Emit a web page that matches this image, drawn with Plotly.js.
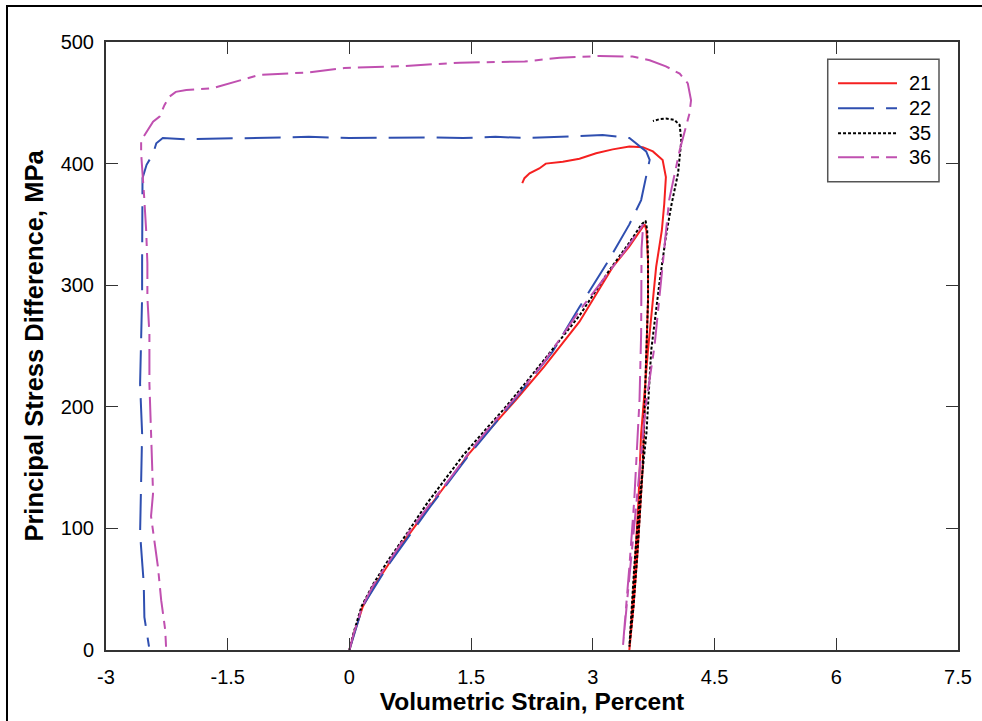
<!DOCTYPE html>
<html>
<head>
<meta charset="utf-8">
<script src="https://cdn.plot.ly/plotly-3.0.1.min.js"></script>
<style>
  html, body { margin: 0; padding: 0; background: #fff; }
  #chart { width: 982px; height: 721px; }
</style>
</head>
<body>
<div id="chart"></div>
<script>
// Test 21 (red, solid)
const s21_x = [0, 0.05, 0.164, 0.3, 0.49, 0.7, 0.986, 1.25, 1.48, 1.75, 2.05, 2.4, 2.835, 3.245, 3.45, 3.615, 3.64,
  3.66, 3.68, 3.68, 3.66, 3.615, 3.55, 3.5, 3.45,
  3.5, 3.56, 3.595, 3.68, 3.78, 3.85, 3.88, 3.9, 3.86, 3.74, 3.615, 3.45, 3.245, 3.04, 2.835, 2.63, 2.42, 2.34, 2.22, 2.157, 2.13];
const s21_y = [0, 12, 35.6, 52, 71.4, 92, 117.8, 141, 162, 183, 205.6, 233, 270, 315, 332, 348, 350,
  345, 320, 288, 240, 151, 80, 35, 0,
  50, 120, 178, 247, 315, 345, 367, 389, 403, 410, 413.5, 414, 411.7, 408.5, 404, 401.6, 400, 396, 392, 388, 384];

// Test 22 (blue, long dash)
const s22_x = [0, 0.164, 0.49, 0.986, 1.48, 2.05, 2.5, 2.835, 3.2, 3.45, 3.595, 3.657, 3.7, 3.657, 3.45, 3.12, 2.63,
  2.2, 1.8, 1.4, 1.0, 0.5, 0, -0.5, -1.0, -1.5, -2.0, -2.3, -2.38, -2.42, -2.5, -2.55, -2.555, -2.55, -2.555, -2.555,
  -2.567, -2.58, -2.555, -2.567, -2.58, -2.55, -2.535, -2.527, -2.47];
const s22_y = [0, 36, 71, 117, 161, 207, 245, 282, 321, 350, 370, 388, 403, 410, 421, 423.5, 422,
  421, 422, 421, 421.5, 421, 421, 422, 421.5, 421, 420, 421, 416.7, 408, 399, 388, 359, 345, 318, 290.6,
  260, 219, 178, 137, 96, 68.5, 55, 27, 2.7];

// Test 35 (black, dotted)
const s35_x = [0, 0.05, 0.15, 0.3, 0.48, 0.7, 0.95, 1.2, 1.4, 1.7, 1.89, 2.2, 2.5, 2.835, 3.2, 3.45, 3.6, 3.65,
  3.67, 3.68, 3.68, 3.66, 3.615, 3.55, 3.5, 3.45,
  3.51, 3.575, 3.66, 3.72, 3.82, 3.9, 3.965, 4.05, 4.09, 4.07, 4.006, 3.9, 3.82, 3.74];
const s35_y = [0, 14, 36, 55, 74, 95, 120, 142, 160, 183, 197, 222, 247, 275, 312, 335, 350, 353,
  345, 320, 288, 240, 151, 80, 35, 2.7,
  68.5, 123, 178, 247, 301.6, 340, 365, 392, 419, 431.7, 435.9, 437, 436.5, 435];

// Test 36 (magenta, dash-dot)
const s36_x = [0, 0.05, 0.16, 0.3, 0.49, 0.7, 0.98, 1.25, 1.48, 1.75, 2.05, 2.4, 2.835, 3.37, 3.55, 3.62,
  3.6, 3.595, 3.575, 3.51, 3.45, 3.37,
  3.45, 3.55, 3.65, 3.76, 3.84, 3.94, 4.07, 4.19, 4.21, 4.17, 4.07, 3.9, 3.7, 3.49, 3.08, 2.59, 2.16, 1.36, 0.62, -0.06,
  -0.49, -1.11, -1.685, -2.01, -2.14, -2.22, -2.28, -2.34, -2.42, -2.49, -2.567, -2.567, -2.55, -2.53, -2.505, -2.49, -2.49,
  -2.465, -2.465, -2.445, -2.42, -2.445, -2.40, -2.36, -2.32, -2.27, -2.26];
const s36_y = [0, 13, 36, 54, 73, 94, 119, 142, 163, 185, 208, 237, 279, 326, 343, 350,
  330, 260, 205.6, 123, 68.5, 2.7,
  60, 130, 200, 250, 301, 370, 411, 441, 452, 466, 474, 480, 485, 488, 488.5, 487, 484, 483, 480, 478.6,
  475, 473, 462, 460.5, 459, 455, 448, 438.6, 434.5, 427.6, 419, 408.5, 394.7, 372.8, 345, 318, 290,
  260, 219, 178, 129, 110, 90, 68.5, 41, 16.4, 2.7];

const seriesNames = ['21', '22', '35', '36'];
const seriesColors = ['#f52020', '#2f4fb0', '#000000', '#c050b0'];
const seriesDash = ['solid', '36px,12px', '3px,2px', '26px,7px,8px,7px'];
const xTicks = [-3, -1.5, 0, 1.5, 3, 4.5, 6, 7.5];
const xTickText = ['-3', '-1.5', '0', '1.5', '3', '4.5', '6', '7.5'];
const yTicks = [0, 100, 200, 300, 400, 500];

const FONT = 'Liberation Sans, Arial, Helvetica, sans-serif';

const xs = [s21_x, s22_x, s35_x, s36_x];
const ys = [s21_y, s22_y, s35_y, s36_y];
const traces = seriesNames.map((n, i) => ({
  x: xs[i], y: ys[i], name: n, mode: 'lines',
  line: {color: seriesColors[i], width: 2, dash: seriesDash[i]}
}));

// manual legend (paper coordinates)
const legBox = {x0: 0.8471, x1: 0.9777, y0: 0.7702, y1: 0.9715};
const legLineX = [0.8592, 0.9284];
const legRowY = [0.9321, 0.8909, 0.8498, 0.8104];
const legTextX = 0.9401;

const shapes = [
  {type: 'rect', xref: 'paper', yref: 'paper',
   x0: -0.1162, x1: 1.3, y0: -0.3, y1: 1.0592,
   line: {color: '#000', width: 2}, fillcolor: 'rgba(0,0,0,0)', layer: 'below'},
  {type: 'rect', xref: 'paper', yref: 'paper',
   x0: legBox.x0, x1: legBox.x1, y0: legBox.y0, y1: legBox.y1,
   line: {color: '#555', width: 1.5}, fillcolor: '#ffffff', layer: 'above'}
];
const annotations = [];
seriesNames.forEach((n, i) => {
  shapes.push({type: 'line', xref: 'paper', yref: 'paper',
    x0: legLineX[0], x1: legLineX[1], y0: legRowY[i], y1: legRowY[i],
    line: {color: seriesColors[i], width: 2, dash: seriesDash[i]}, layer: 'above'});
  annotations.push({xref: 'paper', yref: 'paper', x: legTextX, y: legRowY[i],
    xanchor: 'left', yanchor: 'middle', text: n, showarrow: false,
    font: {family: FONT, size: 20, color: '#000'}});
});

const layout = {
  width: 982, height: 721,
  margin: {l: 106, r: 24, t: 42, b: 71, pad: 0},
  paper_bgcolor: '#ffffff', plot_bgcolor: '#ffffff',
  font: {family: FONT, color: '#000', size: 20},
  showlegend: false,
  xaxis: {
    range: [-3, 7.5], tickvals: xTicks, ticktext: xTickText,
    ticks: 'inside', ticklen: 12, tickwidth: 1, tickcolor: '#333',
    showline: true, linecolor: '#333', linewidth: 2, mirror: 'ticks',
    showgrid: false, zeroline: false,
    tickfont: {family: FONT, size: 20, color: '#000'},
    ticklabelstandoff: 8,
    title: {text: '<b>Volumetric Strain, Percent</b>', font: {family: FONT, size: 24.5, color: '#000'}, standoff: 4}
  },
  yaxis: {
    range: [0, 500], tickvals: yTicks,
    ticks: 'inside', ticklen: 12, tickwidth: 1, tickcolor: '#333',
    showline: true, linecolor: '#333', linewidth: 2, mirror: 'ticks',
    showgrid: false, zeroline: false,
    tickfont: {family: FONT, size: 20, color: '#000'},
    ticklabelstandoff: 6,
    title: {text: '<b>Principal Stress Difference, MPa</b>', font: {family: FONT, size: 25.5, color: '#000'}, standoff: 10}
  },
  shapes: shapes,
  annotations: annotations
};

Plotly.newPlot('chart', traces, layout, {displayModeBar: false, staticPlot: true});
</script>
</body>
</html>
